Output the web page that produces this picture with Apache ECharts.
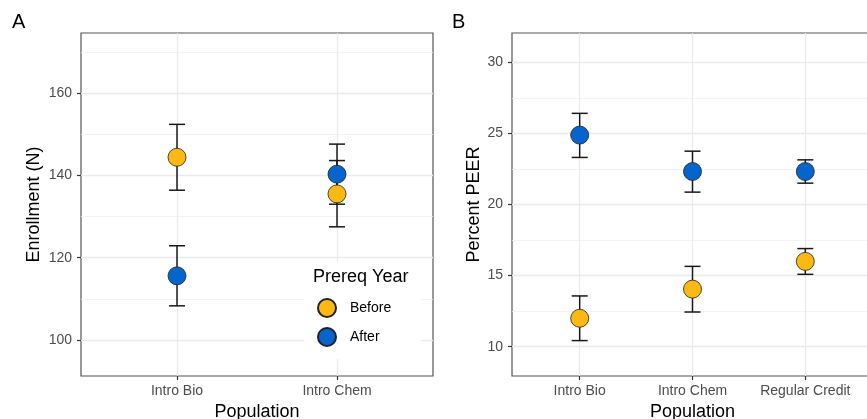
<!DOCTYPE html>
<html>
<head>
<meta charset="utf-8">
<script src="https://cdn.jsdelivr.net/npm/echarts@6/dist/echarts.min.js"></script>
<style>
  html, body { margin: 0; padding: 0; background: #fff; }
  #chart { width: 867px; height: 419px; }
</style>
</head>
<body>
<div id="chart"></div>
<script>
// categories
const catsA = ['Intro Bio', 'Intro Chem'];
const catsB = ['Intro Bio', 'Intro Chem', 'Regular Credit'];
// tick labels
const yTicksA = [100, 120, 140, 160];
const yTicksB = [10, 15, 20, 25, 30];
// panel A: enrollment (mean, lower, upper)
const enrollBefore = [144.4, 135.5];
const enrollBeforeLo = [136.4, 127.5];
const enrollBeforeHi = [152.4, 143.6];
const enrollAfter = [115.6, 140.3];
const enrollAfterLo = [108.3, 133.0];
const enrollAfterHi = [122.9, 147.6];
// panel B: percent PEER
const peerBefore = [12.0, 14.05, 16.0];
const peerBeforeLo = [10.43, 12.44, 15.09];
const peerBeforeHi = [13.57, 15.65, 16.9];
const peerAfter = [24.88, 22.32, 22.32];
const peerAfterLo = [23.31, 20.87, 21.5];
const peerAfterHi = [26.41, 23.75, 23.14];

const colBefore = '#FDB913';
const colAfter = '#0565CC';
const font = 'Liberation Sans, Arial, sans-serif';

// position of category i on the numeric x axis (1, 2, ...)
const pos = cats => cats.map((c, i) => i + 1);

function pts(cats, vals) {
  return cats.map((c, i) => [i + 1, vals[i]]);
}
function bars(cats, lo, hi) {
  return cats.map((c, i) => [i + 1, lo[i], hi[i]]);
}

function errorSeries(idx, data) {
  return {
    type: 'custom',
    xAxisIndex: idx,
    yAxisIndex: idx,
    z: 2,
    silent: true,
    renderItem: function (params, api) {
      const x = api.value(0);
      const lo = api.coord([x, api.value(1)]);
      const hi = api.coord([x, api.value(2)]);
      const w = 8;
      const st = { stroke: '#1a1a1a', lineWidth: 1.5 };
      return {
        type: 'group',
        children: [
          { type: 'line', shape: { x1: lo[0], y1: lo[1], x2: hi[0], y2: hi[1] }, style: st },
          { type: 'line', shape: { x1: lo[0] - w, y1: lo[1], x2: lo[0] + w, y2: lo[1] }, style: st },
          { type: 'line', shape: { x1: hi[0] - w, y1: hi[1], x2: hi[0] + w, y2: hi[1] }, style: st }
        ]
      };
    },
    data: data
  };
}

function pointSeries(idx, name, color, data) {
  return {
    type: 'scatter',
    name: name,
    xAxisIndex: idx,
    yAxisIndex: idx,
    z: 5,
    symbolSize: 18,
    itemStyle: { color: color, borderColor: '#222', borderWidth: 0.8, opacity: 1 },
    data: data
  };
}

function xAxisFor(idx, cats, max) {
  return {
    type: 'value',
    gridIndex: idx,
    min: 0.4,
    max: max,
    name: 'Population',
    nameLocation: 'middle',
    nameGap: 22,
    nameTextStyle: { color: '#000', fontSize: 18, fontFamily: font },
    axisLine: { show: false },
    axisTick: { show: true, length: 4, customValues: pos(cats), lineStyle: { color: '#333', width: 1.2 } },
    axisLabel: {
      customValues: pos(cats),
      margin: 8,
      color: '#4D4D4D',
      fontSize: 14,
      fontFamily: font,
      formatter: v => cats[Math.round(v) - 1] || ''
    },
    splitLine: { show: true, lineStyle: { color: '#EBEBEB', width: 1.3 } }
  };
}

function yAxisFor(idx, name, ticks, min, max) {
  return {
    type: 'value',
    gridIndex: idx,
    min: min,
    max: max,
    name: name,
    nameLocation: 'middle',
    nameGap: idx === 0 ? 38 : 29,
    nameTextStyle: { color: '#000', fontSize: 18, fontFamily: font },
    axisLine: { show: false },
    axisTick: { show: true, length: 4, customValues: ticks, lineStyle: { color: '#333', width: 1.2 } },
    axisLabel: { customValues: ticks, margin: 9, color: '#4D4D4D', fontSize: 14, fontFamily: font },
    splitLine: { show: true, lineStyle: { color: '#EBEBEB', width: 1.3 } },
    minorTick: { show: false, splitNumber: 2 },
    minorSplitLine: { show: true, lineStyle: { color: '#F0F0F0', width: 0.8 } }
  };
}

const chart = echarts.init(document.getElementById('chart'), null, { renderer: 'canvas' });
chart.setOption({
  animation: false,
  backgroundColor: '#fff',
  textStyle: { fontFamily: font },
  title: [
    { text: 'A', left: 7, top: 7, textStyle: { fontSize: 20, fontWeight: 'normal', color: '#000', fontFamily: font } },
    { text: 'B', left: 447, top: 7, textStyle: { fontSize: 20, fontWeight: 'normal', color: '#000', fontFamily: font } }
  ],
  grid: [
    { left: 81, right: 434, top: 33, bottom: 43, outerBoundsMode: 'none', show: true, borderColor: '#555', borderWidth: 1.2, backgroundColor: '#fff' },
    { left: 512, right: -6, top: 33, bottom: 43, outerBoundsMode: 'none', show: true, borderColor: '#555', borderWidth: 1.2, backgroundColor: '#fff' }
  ],
  xAxis: [xAxisFor(0, catsA, 2.6), xAxisFor(1, catsB, 3.6)],
  yAxis: [
    yAxisFor(0, 'Enrollment (N)', yTicksA, 91.25, 174.6),
    yAxisFor(1, 'Percent PEER', yTicksB, 7.94, 32.06)
  ],
  legend: {
    data: ['Before', 'After'],
    orient: 'vertical',
    left: 304,
    top: 262,
    padding: [36, 30, 12, 13],
    backgroundColor: '#fff',
    itemWidth: 18,
    itemHeight: 18,
    itemGap: 9,
    icon: 'circle',
    textStyle: { fontSize: 14, color: '#000', fontFamily: font, padding: [0, 0, 0, 9] },
    z: 20
  },
  graphic: [
    {
      type: 'text',
      left: 313,
      top: 268,
      z: 100,
      style: { text: 'Prereq Year', fontSize: 18, fill: '#000', fontFamily: font }
    }
  ],
  series: [
    errorSeries(0, bars(catsA, enrollBeforeLo, enrollBeforeHi)),
    errorSeries(0, bars(catsA, enrollAfterLo, enrollAfterHi)),
    errorSeries(1, bars(catsB, peerBeforeLo, peerBeforeHi)),
    errorSeries(1, bars(catsB, peerAfterLo, peerAfterHi)),
    pointSeries(0, 'After', colAfter, pts(catsA, enrollAfter)),
    pointSeries(0, 'Before', colBefore, pts(catsA, enrollBefore)),
    pointSeries(1, 'After', colAfter, pts(catsB, peerAfter)),
    pointSeries(1, 'Before', colBefore, pts(catsB, peerBefore))
  ]
});
</script>
</body>
</html>
